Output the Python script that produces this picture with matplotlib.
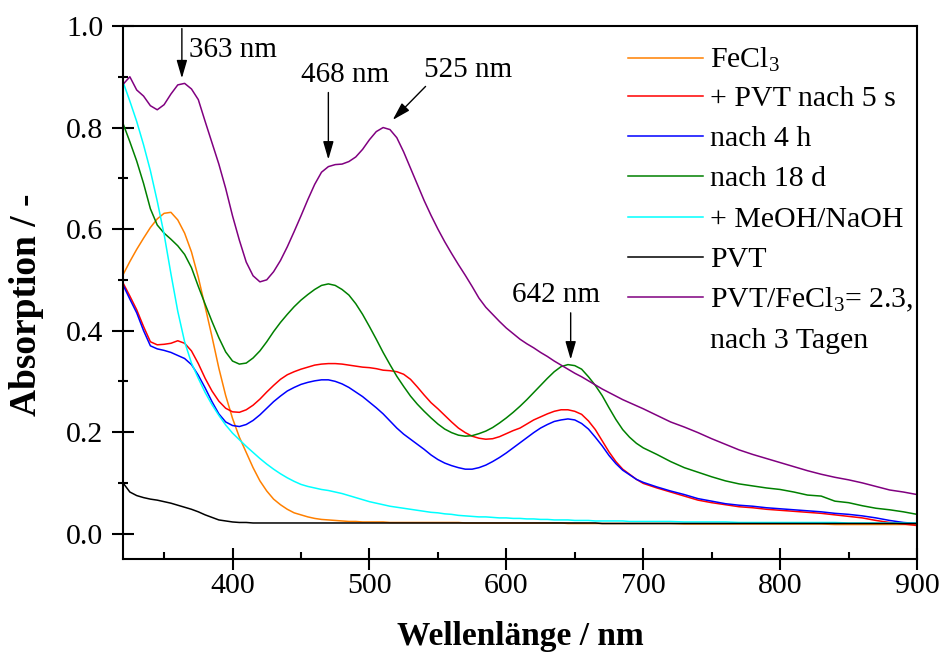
import numpy as np
import matplotlib
matplotlib.use("Agg")
import matplotlib.pyplot as plt
from matplotlib.ticker import MultipleLocator, FormatStrFormatter

plt.rcParams["font.family"] = ["Liberation Serif", "DejaVu Serif"]
plt.rcParams["mathtext.fontset"] = "custom"
plt.rcParams["mathtext.rm"] = "Liberation Serif"
plt.rcParams["mathtext.it"] = "Liberation Serif:italic"
plt.rcParams["mathtext.bf"] = "Liberation Serif:bold"

# ---- spectra (wavelength in nm, absorbance) ----
wavelength = np.array(list(range(320, 701, 5)) + list(range(710, 901, 10)))

fecl3 = [0.510, 0.536, 0.560, 0.582, 0.603, 0.620, 0.631, 0.633, 0.618, 0.592,
         0.555, 0.505, 0.447, 0.388, 0.326, 0.272, 0.227, 0.190, 0.160, 0.130,
         0.104, 0.084, 0.068, 0.057, 0.048, 0.041, 0.037, 0.033, 0.030, 0.028,
         0.027, 0.026, 0.025, 0.024, 0.024, 0.023, 0.023, 0.023, 0.023, 0.022,
         0.022, 0.022, 0.022, 0.022, 0.022, 0.022, 0.022, 0.022, 0.022, 0.022,
         0.021, 0.021, 0.021, 0.021, 0.021, 0.021, 0.021, 0.021, 0.021, 0.021,
         0.021, 0.021, 0.021, 0.021, 0.021, 0.020, 0.020, 0.020, 0.020, 0.020,
         0.020, 0.020, 0.020, 0.020, 0.020, 0.020, 0.020,
         0.020, 0.020, 0.019, 0.019, 0.019, 0.019, 0.019, 0.019, 0.019, 0.019,
         0.019, 0.019, 0.019, 0.018, 0.018, 0.018, 0.018, 0.018, 0.018, 0.018]

pvt_5s = [0.494, 0.468, 0.441, 0.408, 0.378, 0.372, 0.373, 0.375, 0.380, 0.375,
          0.360, 0.335, 0.306, 0.281, 0.261, 0.247, 0.240, 0.239, 0.244, 0.253,
          0.265, 0.279, 0.292, 0.304, 0.313, 0.319, 0.324, 0.328, 0.332, 0.334,
          0.335, 0.335, 0.334, 0.332, 0.330, 0.328, 0.327, 0.325, 0.322, 0.321,
          0.319, 0.314, 0.304, 0.289, 0.273, 0.258, 0.246, 0.233, 0.220, 0.208,
          0.199, 0.192, 0.188, 0.186, 0.187, 0.191, 0.197, 0.203, 0.208, 0.216,
          0.224, 0.230, 0.236, 0.241, 0.244, 0.244, 0.241, 0.235, 0.222, 0.205,
          0.183, 0.161, 0.142, 0.127, 0.117, 0.107, 0.099,
          0.090, 0.082, 0.074, 0.066, 0.061, 0.057, 0.053, 0.051, 0.048, 0.046,
          0.044, 0.042, 0.040, 0.037, 0.034, 0.031, 0.026, 0.022, 0.019, 0.016]

after_4h = [0.490, 0.462, 0.435, 0.400, 0.370, 0.364, 0.361, 0.357, 0.351, 0.345,
            0.333, 0.312, 0.287, 0.260, 0.236, 0.220, 0.213, 0.211, 0.215, 0.223,
            0.234, 0.247, 0.260, 0.271, 0.281, 0.288, 0.294, 0.298, 0.301, 0.303,
            0.303, 0.300, 0.295, 0.288, 0.279, 0.270, 0.259, 0.248, 0.236, 0.222,
            0.208, 0.196, 0.186, 0.176, 0.166, 0.155, 0.146, 0.139, 0.134, 0.130,
            0.127, 0.127, 0.130, 0.135, 0.142, 0.150, 0.159, 0.169, 0.179, 0.189,
            0.199, 0.208, 0.215, 0.221, 0.224, 0.226, 0.224, 0.217, 0.206, 0.190,
            0.173, 0.154, 0.138, 0.125, 0.116, 0.107, 0.101,
            0.092, 0.084, 0.077, 0.069, 0.064, 0.059, 0.056, 0.054, 0.051, 0.049,
            0.047, 0.045, 0.043, 0.040, 0.038, 0.035, 0.031, 0.026, 0.022, 0.020]

after_18d = [0.808, 0.772, 0.734, 0.690, 0.640, 0.608, 0.592, 0.580, 0.567, 0.550,
             0.524, 0.487, 0.452, 0.418, 0.386, 0.358, 0.340, 0.334, 0.336, 0.346,
             0.360, 0.378, 0.398, 0.416, 0.432, 0.447, 0.460, 0.471, 0.481, 0.489,
             0.492, 0.489, 0.481, 0.470, 0.453, 0.432, 0.408, 0.383, 0.357, 0.333,
             0.310, 0.290, 0.271, 0.255, 0.241, 0.228, 0.216, 0.206, 0.199, 0.194,
             0.192, 0.193, 0.197, 0.202, 0.209, 0.218, 0.228, 0.239, 0.251, 0.264,
             0.278, 0.292, 0.306, 0.319, 0.329, 0.333, 0.331, 0.324, 0.309, 0.292,
             0.272, 0.248, 0.225, 0.205, 0.190, 0.178, 0.169,
             0.156, 0.142, 0.130, 0.121, 0.112, 0.104, 0.098, 0.094, 0.090, 0.087,
             0.082, 0.076, 0.074, 0.064, 0.061, 0.055, 0.050, 0.047, 0.043, 0.038]

meoh_naoh = [0.890, 0.852, 0.812, 0.766, 0.715, 0.655, 0.590, 0.512, 0.438, 0.378,
             0.336, 0.306, 0.278, 0.254, 0.233, 0.214, 0.198, 0.185, 0.172, 0.160,
             0.148, 0.137, 0.127, 0.118, 0.110, 0.103, 0.097, 0.093, 0.090, 0.087,
             0.085, 0.082, 0.079, 0.075, 0.071, 0.067, 0.063, 0.060, 0.057, 0.054,
             0.052, 0.050, 0.048, 0.046, 0.044, 0.042, 0.041, 0.039, 0.038, 0.036,
             0.035, 0.034, 0.033, 0.033, 0.032, 0.031, 0.031, 0.030, 0.030, 0.029,
             0.029, 0.028, 0.028, 0.027, 0.027, 0.027, 0.026, 0.026, 0.026, 0.025,
             0.025, 0.025, 0.025, 0.025, 0.024, 0.024, 0.024,
             0.024, 0.024, 0.023, 0.023, 0.023, 0.023, 0.022, 0.022, 0.022, 0.022,
             0.022, 0.022, 0.022, 0.022, 0.021, 0.021, 0.021, 0.021, 0.021, 0.021]

pvt = [0.100, 0.082, 0.075, 0.071, 0.068, 0.066, 0.063, 0.060, 0.056, 0.052,
       0.048, 0.043, 0.037, 0.032, 0.027, 0.025, 0.023, 0.022, 0.022, 0.021,
       0.021, 0.021, 0.021, 0.021, 0.021, 0.021, 0.021, 0.021, 0.021, 0.021,
       0.021, 0.021, 0.021, 0.021, 0.021, 0.021, 0.021, 0.021, 0.021, 0.021,
       0.021, 0.021, 0.021, 0.021, 0.021, 0.021, 0.021, 0.021, 0.021, 0.021,
       0.021, 0.021, 0.021, 0.021, 0.021, 0.021, 0.021, 0.021, 0.021, 0.021,
       0.021, 0.021, 0.021, 0.021, 0.021, 0.021, 0.021, 0.021, 0.021, 0.021,
       0.020, 0.020, 0.020, 0.020, 0.020, 0.020, 0.020,
       0.020, 0.020, 0.020, 0.020, 0.020, 0.020, 0.020, 0.020, 0.020, 0.020,
       0.020, 0.020, 0.020, 0.020, 0.020, 0.020, 0.020, 0.020, 0.020, 0.020]

pvt_fecl3 = [0.885, 0.900, 0.874, 0.862, 0.843, 0.835, 0.845, 0.866, 0.884, 0.887,
             0.876, 0.855, 0.812, 0.770, 0.728, 0.680, 0.626, 0.578, 0.535, 0.508,
             0.496, 0.500, 0.516, 0.538, 0.565, 0.595, 0.626, 0.658, 0.688, 0.712,
             0.723, 0.727, 0.728, 0.733, 0.742, 0.757, 0.776, 0.792, 0.800, 0.796,
             0.780, 0.752, 0.720, 0.688, 0.656, 0.627, 0.600, 0.575, 0.552, 0.530,
             0.509, 0.487, 0.464, 0.446, 0.432, 0.418, 0.405, 0.394, 0.383, 0.374,
             0.366, 0.357, 0.349, 0.340, 0.332, 0.324, 0.316, 0.309, 0.301, 0.293,
             0.285, 0.278, 0.271, 0.264, 0.258, 0.252, 0.246,
             0.233, 0.220, 0.210, 0.199, 0.187, 0.176, 0.165, 0.156, 0.148, 0.140,
             0.132, 0.124, 0.117, 0.111, 0.106, 0.100, 0.093, 0.086, 0.082, 0.077]

series = [
    (fecl3, "#FF8000", "FeCl$_\\mathregular{3}$"),
    (pvt_5s, "#FF0000", "+ PVT nach 5 s"),
    (after_4h, "#0000FF", "nach 4 h"),
    (after_18d, "#008000", "nach 18 d"),
    (meoh_naoh, "#00FFFF", "+ MeOH/NaOH"),
    (pvt, "#000000", "PVT"),
    (pvt_fecl3, "#800080", "PVT/FeCl$_\\mathregular{3}$= 2.3,"),
]
extra_legend_line = "nach 3 Tagen"

# band annotations: label, arrow tail (nm, A), arrow tip (nm, A), text anchor (nm, A), alignment
bands = [
    ("363 nm", (363, 0.995), (363, 0.897), (368.5, 0.953), "left"),
    ("468 nm", (470, 0.869), (470, 0.737), (482, 0.904), "center"),
    ("525 nm", (541, 0.881), (517, 0.815), (540, 0.913), "left"),
    ("642 nm", (647, 0.435), (647, 0.343), (636, 0.470), "center"),
]

fig = plt.figure(figsize=(9.39, 6.52), dpi=100)
ax = fig.add_axes([0.1310, 0.1426, 0.8456, 0.8175])

for values, color, label in series:
    ax.plot(wavelength, values, color=color, lw=1.1)

ax.set_xlim(320, 900)
ax.set_ylim(-0.05, 1.0)

ax.xaxis.set_major_locator(MultipleLocator(100))
ax.xaxis.set_minor_locator(MultipleLocator(50))
ax.yaxis.set_major_locator(MultipleLocator(0.2))
ax.yaxis.set_minor_locator(MultipleLocator(0.1))
ax.yaxis.set_major_formatter(FormatStrFormatter("%.1f"))

ax.tick_params(axis="both", which="major", direction="inout", length=16, width=1.5,
               labelsize=21.5, top=False, right=False)
ax.tick_params(axis="x", which="major", pad=2)
ax.tick_params(axis="y", which="major", pad=6)
ax.tick_params(axis="x", which="minor", direction="in", length=5, width=1.5, top=False)
ax.tick_params(axis="y", which="minor", direction="inout", length=7, width=1.5, right=False)
for sp in ax.spines.values():
    sp.set_linewidth(1.5)

ax.set_xlabel("Wellenlänge / nm", fontsize=24, fontweight="bold")
ax.set_ylabel("Absorption / -", fontsize=27, fontweight="bold")
ax.xaxis.set_label_coords(0.5, -0.117)
ax.yaxis.set_label_coords(-0.100, 0.477)

for text, tail, tip, pos, ha in bands:
    ax.annotate("", xy=tip, xytext=tail,
                arrowprops=dict(arrowstyle="-|>,head_length=0.55,head_width=0.16",
                                color="black", lw=1.0, mutation_scale=20,
                                shrinkA=0, shrinkB=0))
    ax.text(pos[0], pos[1], text, ha=ha, va="center", fontsize=21)

# legend drawn by hand so the two-line entry keeps its key on the first line
x0, x1, xt = 0.636, 0.730, 0.739
row_y = [0.940, 0.869, 0.794, 0.719, 0.642, 0.567, 0.492]
for (values, color, label), y in zip(series, row_y):
    ax.plot([x0, x1], [y, y], color=color, lw=1.1, transform=ax.transAxes)
    ax.text(xt, y - 0.019, label, transform=ax.transAxes, fontsize=21.5,
            ha="left", va="baseline")
ax.text(xt, 0.415 - 0.019, extra_legend_line, transform=ax.transAxes,
        fontsize=21.5, ha="left", va="baseline")

fig.savefig("out.png", dpi=100)
